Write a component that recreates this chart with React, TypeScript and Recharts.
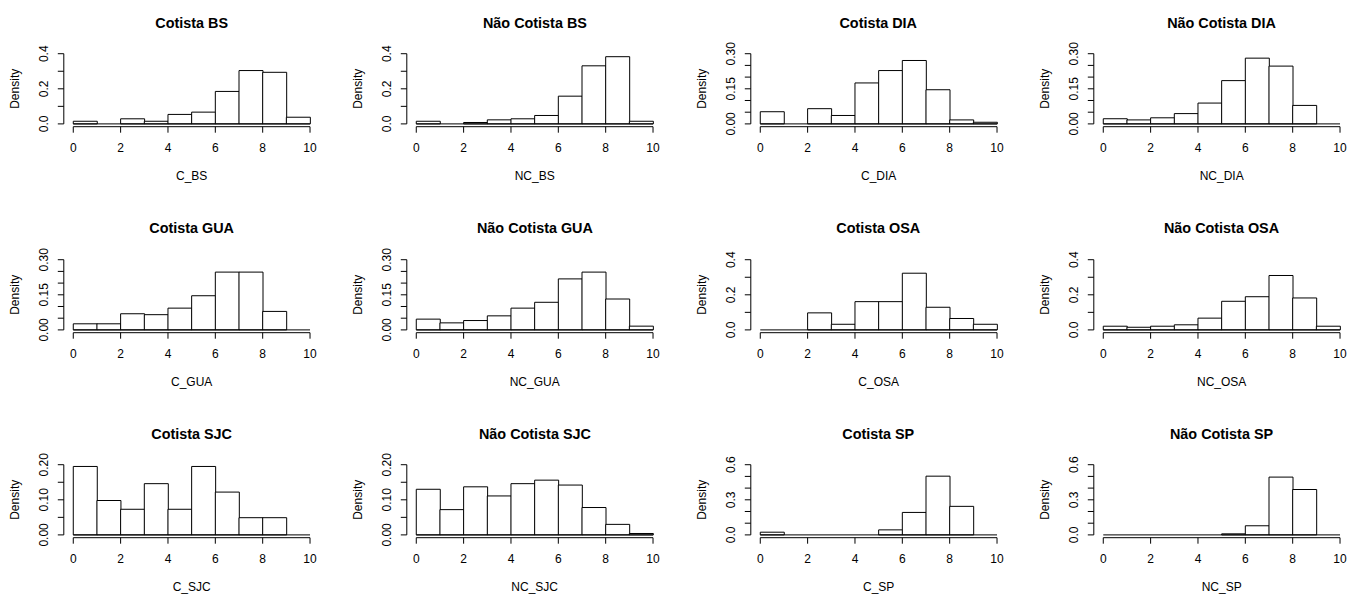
import { BarChart, Bar, XAxis, YAxis, ReferenceLine, Label } from 'recharts';

// histogram bins (width 1, from 0 to 10), by their lower edge
const BIN_START = [0, 1, 2, 3, 4, 5, 6, 7, 8, 9];
const X_TICKS = [0, 2, 4, 6, 8, 10];

// densities
const C_BS = [0.015, 0, 0.029, 0.015, 0.054, 0.067, 0.185, 0.304, 0.294, 0.038];
const NC_BS = [0.015, 0, 0.008, 0.023, 0.029, 0.048, 0.158, 0.331, 0.383, 0.015];
const C_DIA = [0.052, 0, 0.065, 0.036, 0.175, 0.228, 0.271, 0.146, 0.017, 0.007];
const NC_DIA = [0.022, 0.017, 0.026, 0.044, 0.089, 0.185, 0.281, 0.247, 0.079, 0];
const C_GUA = [0.026, 0.026, 0.069, 0.065, 0.093, 0.146, 0.247, 0.247, 0.079, 0];
const NC_GUA = [0.046, 0.03, 0.04, 0.06, 0.093, 0.118, 0.218, 0.247, 0.132, 0.016];
const C_OSA = [0, 0, 0.097, 0.032, 0.161, 0.161, 0.323, 0.129, 0.065, 0.032];
const NC_OSA = [0.021, 0.015, 0.021, 0.029, 0.067, 0.163, 0.189, 0.31, 0.182, 0.021];
const C_SJC = [0.195, 0.098, 0.073, 0.146, 0.073, 0.195, 0.122, 0.049, 0.049, 0];
const NC_SJC = [0.13, 0.072, 0.137, 0.111, 0.146, 0.156, 0.142, 0.078, 0.03, 0.004];
const C_SP = [0.023, 0, 0, 0, 0, 0.043, 0.192, 0.502, 0.244, 0];
const NC_SP = [0, 0, 0, 0, 0, 0.009, 0.078, 0.494, 0.388, 0];

// y axis ticks and their (sparse) labels
const Y_04 = [0, 0.1, 0.2, 0.3, 0.4];
const Y_04_LABELS = ['0.0', '', '0.2', '', '0.4'];
const Y_030 = [0, 0.05, 0.1, 0.15, 0.2, 0.25, 0.3];
const Y_030_LABELS = ['0.00', '', '', '0.15', '', '', '0.30'];
const Y_020 = [0, 0.05, 0.1, 0.15, 0.2];
const Y_020_LABELS = ['0.00', '', '0.10', '', '0.20'];
const Y_06 = [0, 0.1, 0.2, 0.3, 0.4, 0.5, 0.6];
const Y_06_LABELS = ['0.0', '', '', '0.3', '', '', '0.6'];

const PANELS = [
  { title: 'Cotista BS', xlab: 'C_BS', values: C_BS, yTicks: Y_04, yLabels: Y_04_LABELS },
  { title: 'Não Cotista BS', xlab: 'NC_BS', values: NC_BS, yTicks: Y_04, yLabels: Y_04_LABELS },
  { title: 'Cotista DIA', xlab: 'C_DIA', values: C_DIA, yTicks: Y_030, yLabels: Y_030_LABELS },
  { title: 'Não Cotista DIA', xlab: 'NC_DIA', values: NC_DIA, yTicks: Y_030, yLabels: Y_030_LABELS },
  { title: 'Cotista GUA', xlab: 'C_GUA', values: C_GUA, yTicks: Y_030, yLabels: Y_030_LABELS },
  { title: 'Não Cotista GUA', xlab: 'NC_GUA', values: NC_GUA, yTicks: Y_030, yLabels: Y_030_LABELS },
  { title: 'Cotista OSA', xlab: 'C_OSA', values: C_OSA, yTicks: Y_04, yLabels: Y_04_LABELS },
  { title: 'Não Cotista OSA', xlab: 'NC_OSA', values: NC_OSA, yTicks: Y_04, yLabels: Y_04_LABELS },
  { title: 'Cotista SJC', xlab: 'C_SJC', values: C_SJC, yTicks: Y_020, yLabels: Y_020_LABELS },
  { title: 'Não Cotista SJC', xlab: 'NC_SJC', values: NC_SJC, yTicks: Y_020, yLabels: Y_020_LABELS },
  { title: 'Cotista SP', xlab: 'C_SP', values: C_SP, yTicks: Y_06, yLabels: Y_06_LABELS },
  { title: 'Não Cotista SP', xlab: 'NC_SP', values: NC_SP, yTicks: Y_06, yLabels: Y_06_LABELS },
];

// layout (panel-local pixels)
const CELL_W = 343.3;
const CELL_H = 205.5;
const CHART_W = 343;
const CHART_H = 205;
const PLOT_L = 63.8;
const PLOT_R = 319.5;
const PLOT_T = 50.9;
const PLOT_B = 126.7;
const X_AXIS_H = 30;
const FONT = '"Liberation Sans", Arial, sans-serif';
const INK = '#000';

function YTick({ x, y, index, labels }: any) {
  const text = labels[index];
  if (!text) return null;
  return (
    <text
      x={x}
      y={y}
      transform={`rotate(-90 ${x} ${y})`}
      textAnchor="middle"
      dominantBaseline="central"
      fontSize={12}
      fontFamily={FONT}
      fill={INK}
    >
      {text}
    </text>
  );
}

function Histogram({ panel, col, row }: any) {
  const top = panel.yTicks[panel.yTicks.length - 1];
  const yMin = -0.04 * top;
  const data = BIN_START.map((lo, i) => ({ mid: lo + 0.5, density: panel.values[i] }));

  return (
    <div style={{ position: 'absolute', left: col * CELL_W, top: row * CELL_H, width: CHART_W, height: CHART_H }}>
      <div
        style={{
          position: 'absolute',
          left: PLOT_L,
          width: PLOT_R - PLOT_L,
          top: 14.5,
          lineHeight: '17px',
          textAlign: 'center',
          fontFamily: FONT,
          fontWeight: 'bold',
          fontSize: 14.4,
          color: INK,
        }}
      >
        {panel.title}
      </div>
      <BarChart
        width={CHART_W}
        height={CHART_H}
        data={data}
        barCategoryGap={0}
        barGap={0}
        margin={{ top: PLOT_T, right: CHART_W - PLOT_R, left: 0, bottom: CHART_H - PLOT_B - X_AXIS_H }}
      >
        <XAxis
          dataKey="mid"
          type="number"
          domain={[-0.4, 10.4]}
          allowDataOverflow
          ticks={X_TICKS}
          interval={0}
          height={X_AXIS_H}
          axisLine={false}
          tickSize={6}
          tickMargin={11}
          tickLine={{ stroke: INK, strokeWidth: 1 }}
          tick={{ fontSize: 12, fill: INK, fontFamily: FONT }}
        >
          <Label
            content={({ viewBox }: any) => (
              <text
                x={viewBox.x + viewBox.width / 2}
                y={PLOT_B + 49}
                textAnchor="middle"
                dominantBaseline="central"
                fontSize={12}
                fontFamily={FONT}
                fill={INK}
              >
                {panel.xlab}
              </text>
            )}
          />
        </XAxis>
        <YAxis
          type="number"
          domain={[yMin, top * 1.04]}
          allowDataOverflow
          ticks={panel.yTicks}
          interval={0}
          width={PLOT_L}
          axisLine={false}
          tickSize={6}
          tickMargin={14}
          tickLine={{ stroke: INK, strokeWidth: 1 }}
          tick={<YTick labels={panel.yLabels} />}
        >
          <Label
            content={({ viewBox }: any) => (
              <text
                x={15}
                y={viewBox.y + viewBox.height / 2}
                transform={`rotate(-90 15 ${viewBox.y + viewBox.height / 2})`}
                textAnchor="middle"
                dominantBaseline="central"
                fontSize={12}
                fontFamily={FONT}
                fill={INK}
              >
                Density
              </text>
            )}
          />
        </YAxis>
        {/* axis lines span first..last tick, like base R */}
        <ReferenceLine
          ifOverflow="visible"
          segment={[{ x: -0.4, y: 0 }, { x: -0.4, y: top }]}
          stroke={INK}
          strokeWidth={1}
        />
        <ReferenceLine
          ifOverflow="visible"
          segment={[{ x: 0, y: yMin }, { x: 10, y: yMin }]}
          stroke={INK}
          strokeWidth={1}
        />
        <ReferenceLine
          ifOverflow="visible"
          segment={[{ x: 0, y: 0 }, { x: 10, y: 0 }]}
          stroke={INK}
          strokeWidth={1}
        />
        <Bar dataKey="density" fill="#fff" stroke={INK} strokeWidth={1} isAnimationActive={false} />
      </BarChart>
    </div>
  );
}

export default function App() {
  return (
    <div
      style={{
        position: 'absolute',
        left: 0,
        top: 0,
        width: 1348,
        height: 596,
        overflow: 'hidden',
        background: '#fff',
      }}
    >
      {PANELS.map((p, i) => (
        <Histogram key={p.xlab} panel={p} col={i % 4} row={Math.floor(i / 4)} />
      ))}
    </div>
  );
}
